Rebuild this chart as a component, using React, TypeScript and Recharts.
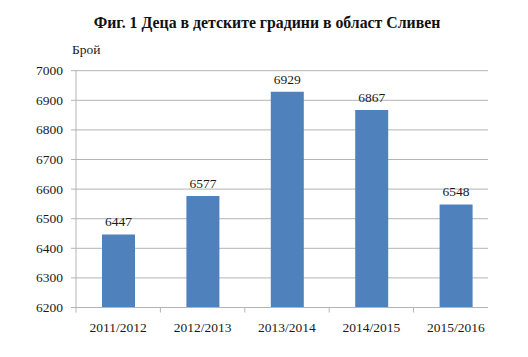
import React from "react";
import { BarChart, Bar, XAxis, YAxis, CartesianGrid, LabelList } from "recharts";

const years = ["2011/2012", "2012/2013", "2013/2014", "2014/2015", "2015/2016"];
const children = [6447, 6577, 6929, 6867, 6548];
const yTicks = [6200, 6300, 6400, 6500, 6600, 6700, 6800, 6900, 7000];
const title = "Фиг. 1 Деца в детските градини в област Сливен";
const yLabel = "Брой";

const data = years.map((y, i) => ({ year: y, value: children[i] }));

const FONT = '"Liberation Serif", "Times New Roman", serif';
const GRID = "#b4b4b4";
const TXT = "#1a1a1a";

const XTick = (props: any) => {
  const { x, y, payload } = props;
  const off = payload?.offset ?? 0;
  return (
    <g>
      <line x1={x - off} x2={x - off} y1={y} y2={y + 5} stroke={GRID} strokeWidth={1} />
      <text
        x={x}
        y={y + 20}
        textAnchor="middle"
        dominantBaseline="central"
        style={{ fontFamily: FONT, fontSize: 13.5, fill: TXT }}
      >
        {payload.value}
      </text>
    </g>
  );
};

const YTick = (props: any) => {
  const { x, y, payload } = props;
  return (
    <text
      x={x}
      y={y}
      textAnchor="end"
      dominantBaseline="central"
      style={{ fontFamily: FONT, fontSize: 13.5, fill: TXT }}
    >
      {payload.value}
    </text>
  );
};

const ValueLabel = (props: any) => {
  const { x, y, width, value } = props;
  return (
    <text
      x={x + width / 2}
      y={y - 8}
      textAnchor="middle"
      style={{ fontFamily: FONT, fontSize: 13.5, fill: TXT }}
    >
      {value}
    </text>
  );
};

export default function App() {
  return (
    <div style={{ position: "absolute", left: 0, top: 0, width: 528, height: 357, background: "#fff" }}>
      <div
        style={{
          position: "absolute",
          left: 3,
          top: 13,
          width: 528,
          textAlign: "center",
          fontFamily: FONT,
          fontWeight: "bold",
          fontSize: 15.8,
          lineHeight: "20px",
          color: "#111",
        }}
      >
        {title}
      </div>
      <div
        style={{
          position: "absolute",
          left: 72,
          top: 41,
          fontFamily: FONT,
          fontSize: 13.5,
          lineHeight: "18px",
          color: TXT,
        }}
      >
        {yLabel}
      </div>
      <BarChart
        width={528}
        height={357}
        data={data}
        margin={{ top: 70.7, right: 40, bottom: 20, left: 0 }}
        style={{ position: "absolute", left: 0, top: 0 }}
      >
        <CartesianGrid vertical={false} stroke={GRID} strokeWidth={1} />
        <XAxis
          dataKey="year"
          height={29.5}
          padding={{ left: 0, right: -10 }}
          axisLine={{ stroke: GRID }}
          tickLine={false}
          tickSize={0}
          tickMargin={0}
          tick={<XTick />}
          interval={0}
        />
        <YAxis
          width={76}
          domain={[6200, 7000]}
          ticks={yTicks}
          interval={0}
          axisLine={{ stroke: GRID }}
          tickLine={{ stroke: GRID }}
          tickSize={5}
          tickMargin={8}
          tick={<YTick />}
          allowDataOverflow
        />
        <Bar dataKey="value" fill="#4F81BD" barSize={33} isAnimationActive={false}>
          <LabelList dataKey="value" content={<ValueLabel />} />
        </Bar>
      </BarChart>
    </div>
  );
}
